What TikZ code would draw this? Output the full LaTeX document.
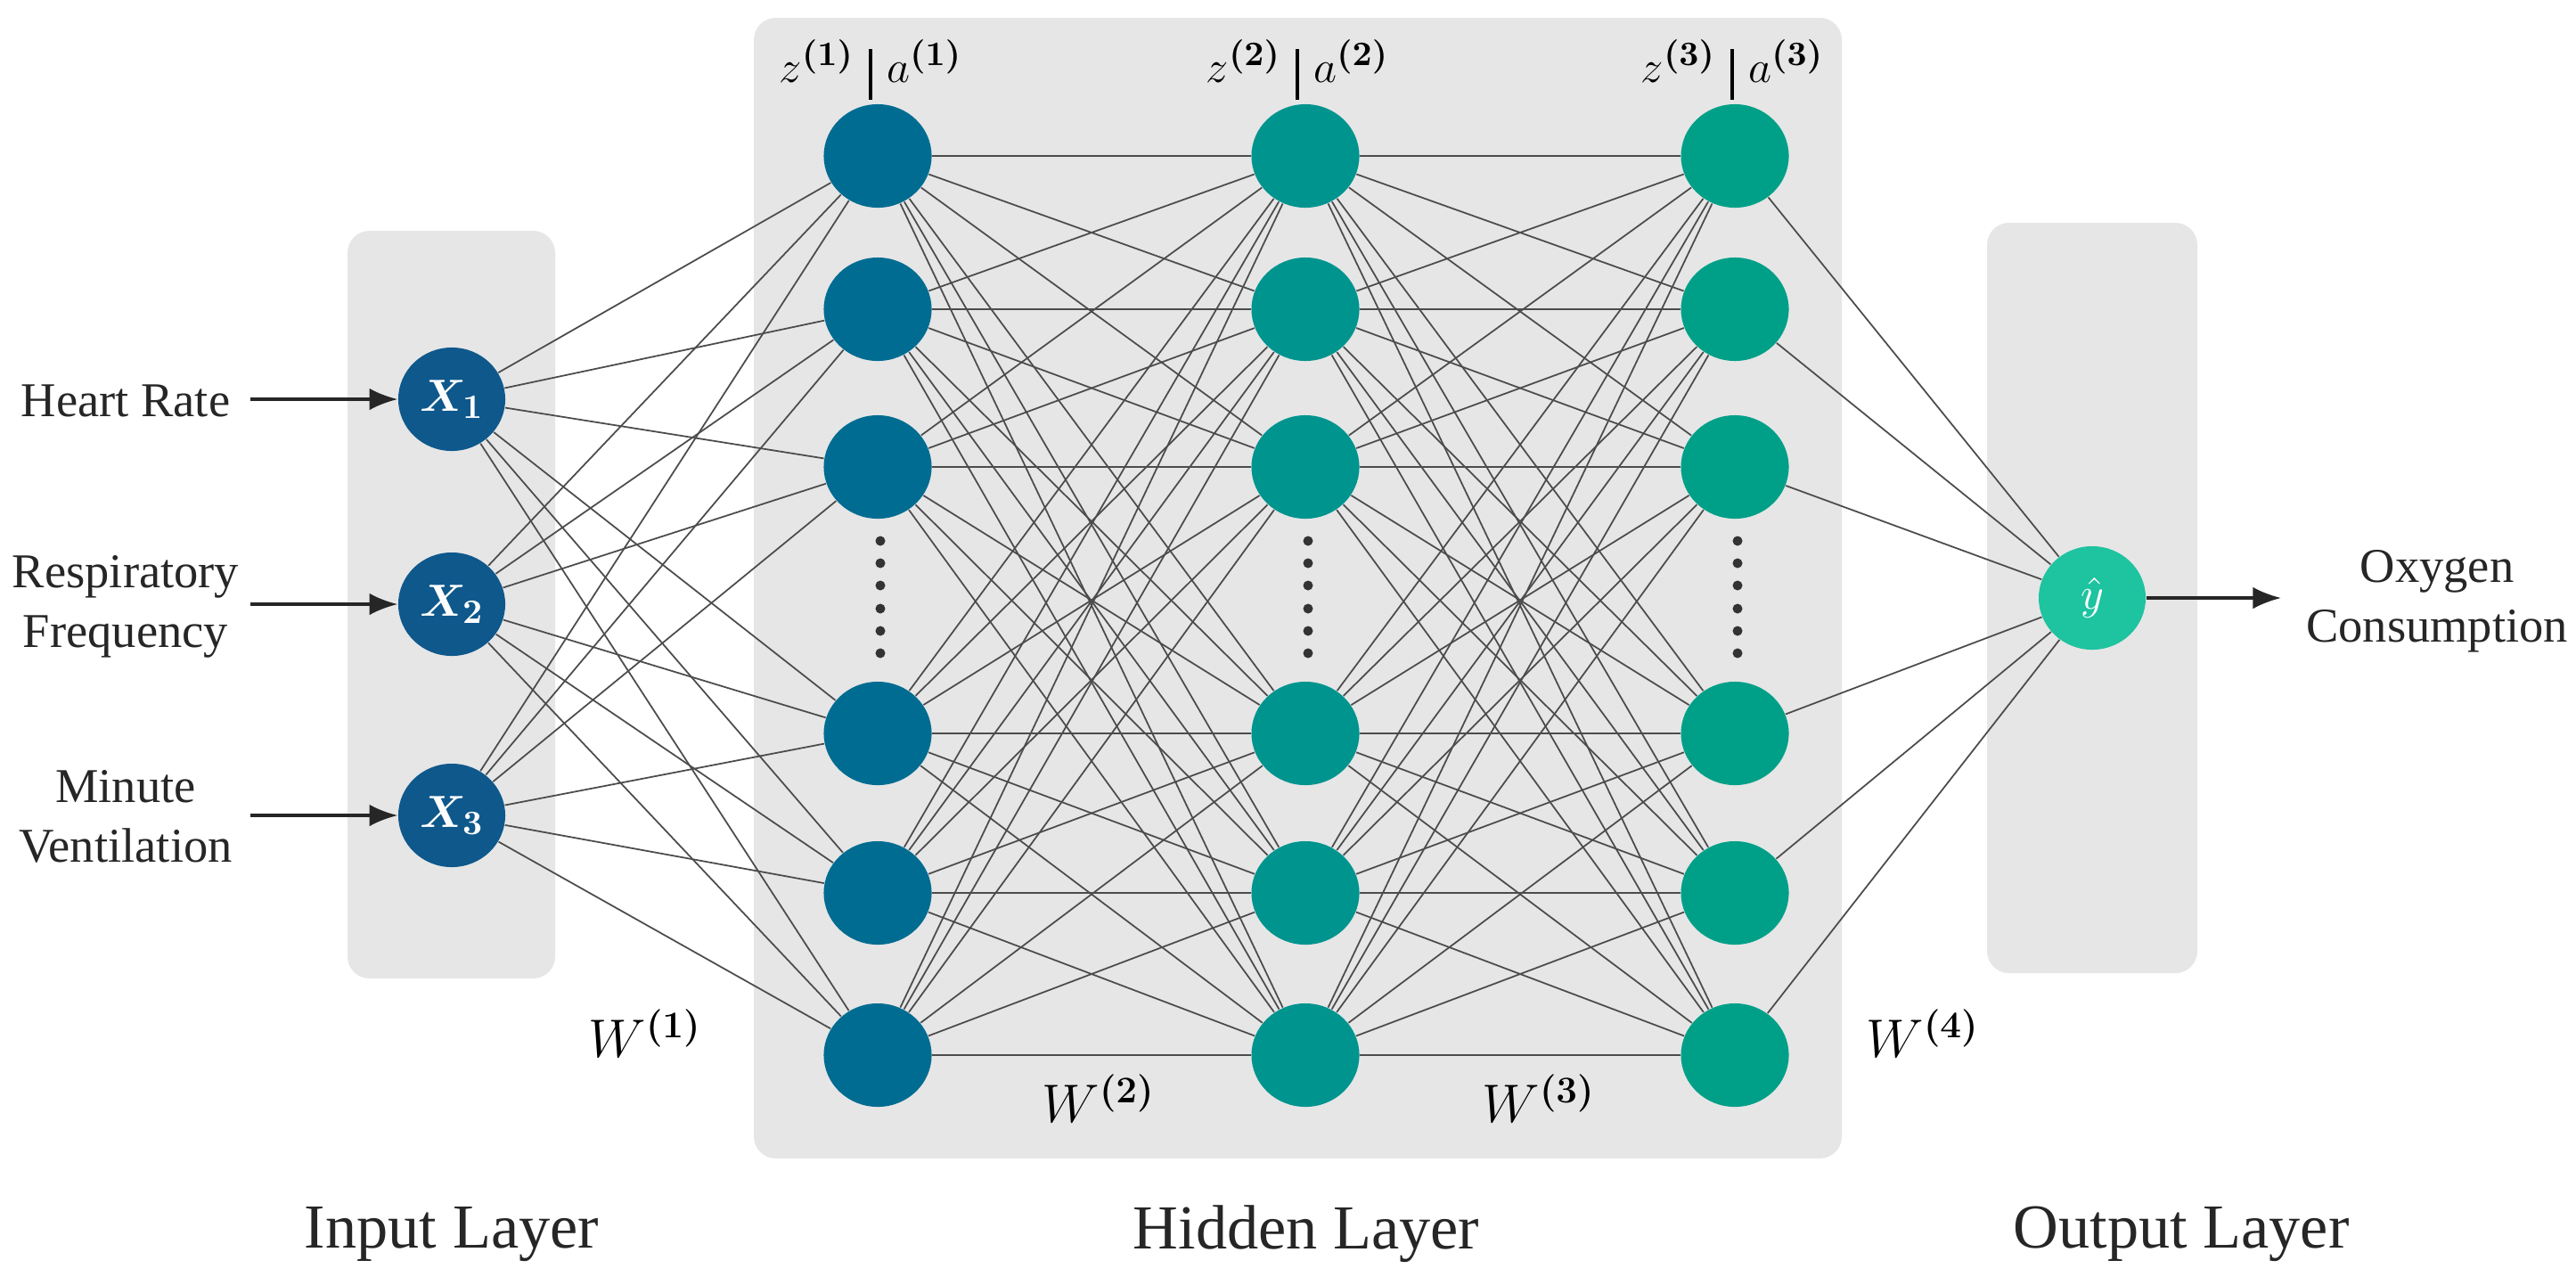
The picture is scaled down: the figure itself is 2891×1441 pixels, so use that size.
\documentclass[tikz,border=0pt]{standalone}
\usepackage{fontspec}
\setmainfont{Liberation Serif}
\usepackage{amsmath}
\usetikzlibrary{shapes.geometric,arrows.meta}
\pgfdeclarelayer{boxes}\pgfdeclarelayer{edges}
\pgfsetlayers{boxes,edges,main}
\definecolor{cin}{RGB}{14,88,140}
\definecolor{ca}{RGB}{0,108,145}
\definecolor{cb}{RGB}{0,148,143}
\definecolor{cc}{RGB}{0,160,136}
\definecolor{cout}{RGB}{30,195,160}
\definecolor{boxg}{RGB}{230,230,230}
\begin{document}
\begin{tikzpicture}[x=0.01cm,y=-0.01cm,
  neu/.style={ellipse,inner sep=0pt,minimum width=1.21cm,minimum height=1.16cm,draw=none},
  inp/.style={ellipse,fill=cin,minimum width=1.2cm,minimum height=1.16cm,inner sep=0pt,text=white,font=\fontsize{15}{18}\selectfont},
  edge/.style={draw=black!70,line width=0.5pt},
  arr/.style={draw=black!85,line width=1pt,-{Latex[length=9pt,width=7pt]}},
  lay/.style={rounded corners=7pt,fill=boxg},
  side/.style={font=\fontsize{15.5}{19}\selectfont,align=center,text=black!85},
  layname/.style={font=\fontsize{20}{24}\selectfont,text=black!85},
  wl/.style={font=\fontsize{17}{20}\selectfont},
  za/.style={font=\fontsize{15}{18}\selectfont}]
\useasboundingbox (0,0) rectangle (2891,1441);
\begin{pgfonlayer}{boxes}
\fill[lay] (390,259) rectangle (623,1098);
\fill[lay] (846,20) rectangle (2067,1300);
\fill[lay] (2230,250) rectangle (2466,1092);
\end{pgfonlayer}
% input nodes
\node[inp] (x1) at (507,448) {$\boldsymbol{X_1}$};
\node[inp] (x2) at (507,678) {$\boldsymbol{X_2}$};
\node[inp] (x3) at (507,915) {$\boldsymbol{X_3}$};
% hidden
\foreach \c/\xx [count=\l] in {ca/985,cb/1465,cc/1947}{
  \foreach \yy [count=\i] in {175,347,524,823,1002,1184}{
    \node[neu,fill=\c] (h\l-\i) at (\xx,\yy) {};
  }
  \foreach \yy in {607,632,657,683,708,733}{\fill[black!80] (\xx+3,\yy) circle (5.5);}
}
\node[inp,fill=cout] (y) at (2348,671) {$\hat{y}$};
% edges
\begin{pgfonlayer}{edges}
\foreach \a in {1,2,3}\foreach \b in {1,...,6}{\draw[edge] (x\a) -- (h1-\b);}
\foreach \a in {1,...,6}\foreach \b in {1,...,6}{
  \draw[edge] (h1-\a) -- (h2-\b);
  \draw[edge] (h2-\a) -- (h3-\b);}
\foreach \a in {1,...,6}{\draw[edge] (h3-\a) -- (y);}
\end{pgfonlayer}
% side labels
\node[side] (l1) at (141,450) {Heart Rate};
\node[side] (l2) at (141,681) {Respiratory\\Frequency};
\node[side] (l3) at (141,916) {Minute\\Ventilation};
\coordinate (s1) at (281,448);\coordinate (s2) at (281,678);\coordinate (s3) at (281,915);
\draw[arr] (s1) -- (x1);
\draw[arr] (s2) -- (x2);
\draw[arr] (s3) -- (x3);
\coordinate (e) at (2560,671);
\draw[arr] (y) -- (e);
\node[side] (oc) at (2735,675) {Oxygen\\Consumption};
% weights
\node[wl] (w1) at (724,1160) {$W^{\boldsymbol{(1)}}$};
\node[wl] (w2) at (1233,1233) {$W^{\boldsymbol{(2)}}$};
\node[wl] (w3) at (1727,1233) {$W^{\boldsymbol{(3)}}$};
\node[wl] (w4) at (2158,1160) {$W^{\boldsymbol{(4)}}$};
% z|a labels
\foreach \l/\xx in {1/977,2/1456,3/1944}{
  \node[za,anchor=base east] (z\l) at (\xx-6,92) {$z^{\boldsymbol{(\l)}}$};
  \node[za,anchor=base west] (a\l) at (\xx+6,92) {$a^{\boldsymbol{(\l)}}$};
  \draw[black,line width=1.2pt] (\xx,55) -- (\xx,112);
}
% layer names
\node[layname] (n1) at (507,1385) {Input Layer};
\node[layname] (n2) at (1466,1385) {Hidden Layer};
\node[layname] (n3) at (2448,1385) {Output Layer};
\end{tikzpicture}
\end{document}
